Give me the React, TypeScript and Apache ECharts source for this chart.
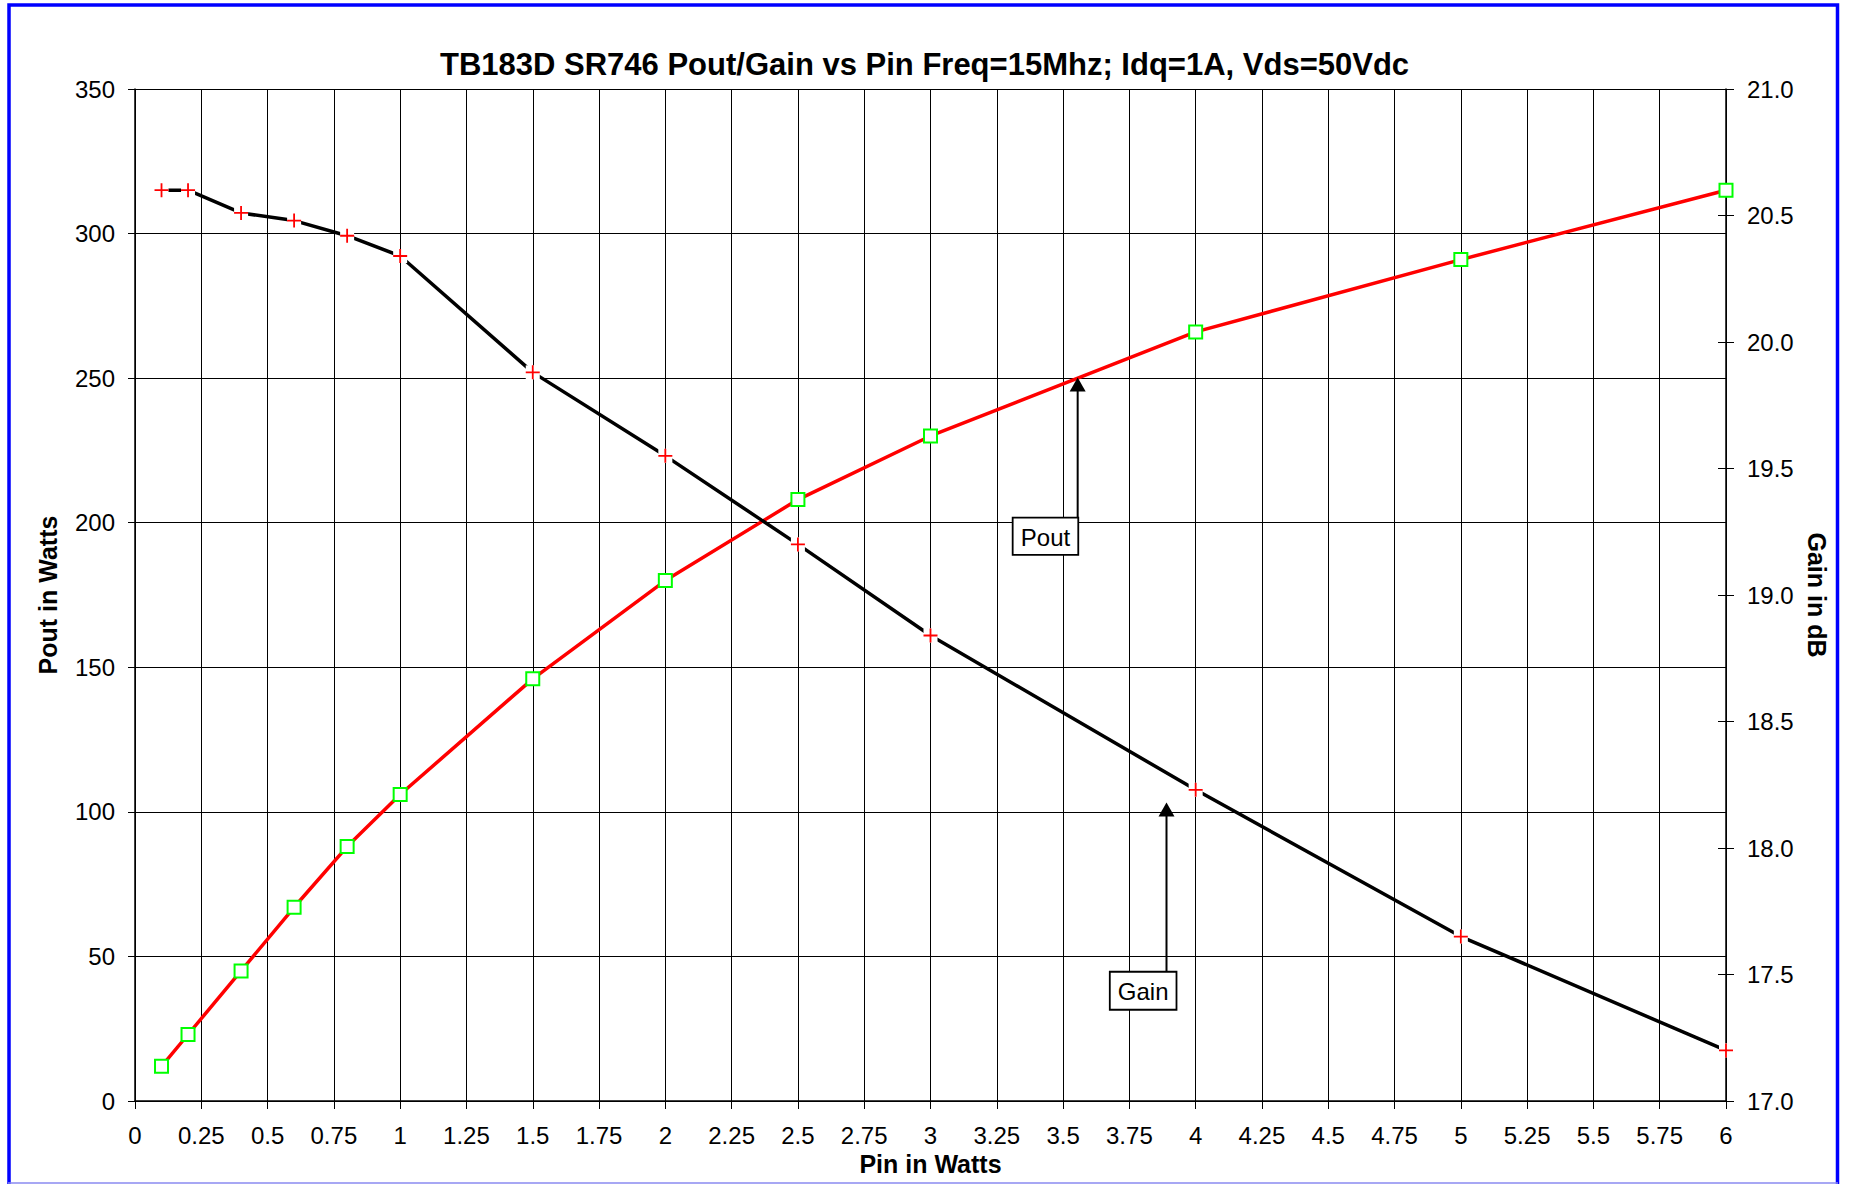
import React, { useEffect, useRef } from 'react';
import * as echarts from 'echarts';

// Data
const pinWatts = [0.1, 0.2, 0.4, 0.6, 0.8, 1, 1.5, 2, 2.5, 3, 4, 5, 6];
const poutWatts = [12, 23, 45, 67, 88, 106, 146, 180, 208, 230, 266, 291, 315];
const gainDb = [20.6, 20.6, 20.51, 20.48, 20.42, 20.34, 19.88, 19.55, 19.2, 18.84, 18.23, 17.65, 17.2];

const titleText = 'TB183D SR746 Pout/Gain vs Pin Freq=15Mhz; Idq=1A, Vds=50Vdc';
const xName = 'Pin in Watts';
const yLeftName = 'Pout in Watts';
const yRightName = 'Gain in dB';

// annotation arrow tips in data coordinates
const poutTip: [number, number] = [3.555, 250.2];
const gainTip: [number, number] = [3.89, 18.18];

const FONT = '"Liberation Sans", Arial, Helvetica, sans-serif';

export default function App() {
  const ref = useRef<HTMLDivElement>(null);
  useEffect(() => {
    const chart = echarts.init(ref.current!, null, { renderer: 'svg' });
    const poutData = pinWatts.map((x, i) => [x, poutWatts[i]]);
    const gainData = pinWatts.map((x, i) => [x, gainDb[i]]);
    const axisLabel = { color: '#000', fontSize: 24, fontFamily: FONT };
    const nameStyle = { color: '#000', fontSize: 25, fontWeight: 'bold', fontFamily: FONT };
    chart.setOption({
      animation: false,
      backgroundColor: '#fff',
      textStyle: { fontFamily: FONT },
      title: {
        text: titleText,
        left: 440,
        top: 49,
        padding: 0,
        textStyle: { color: '#000', fontSize: 31, fontWeight: 'bold', fontFamily: FONT },
      },
      grid: { left: 135, top: 89, right: 125, bottom: 83, containLabel: false, outerBoundsMode: 'none' },
      xAxis: {
        type: 'value',
        min: 0,
        max: 6,
        interval: 0.25,
        name: xName,
        nameLocation: 'middle',
        nameGap: 48,
        nameTextStyle: nameStyle,
        axisLine: { show: true, lineStyle: { color: '#000', width: 1.5 } },
        axisTick: { show: true, length: 8, lineStyle: { color: '#000', width: 1 } },
        axisLabel: { ...axisLabel, margin: 22 },
        splitLine: { show: true, lineStyle: { color: '#000', width: 1 } },
      },
      yAxis: [
        {
          type: 'value',
          min: 0,
          max: 350,
          interval: 50,
          position: 'left',
          name: yLeftName,
          nameLocation: 'middle',
          nameGap: 75,
          nameRotate: 90,
          nameTextStyle: nameStyle,
          axisLine: { show: true, lineStyle: { color: '#000', width: 1.5 } },
          axisTick: { show: true, length: 7, lineStyle: { color: '#000', width: 1 } },
          axisLabel: { ...axisLabel, margin: 20 },
          splitLine: { show: true, lineStyle: { color: '#000', width: 1 } },
        },
        {
          type: 'value',
          min: 17,
          max: 21,
          interval: 0.5,
          position: 'right',
          name: yRightName,
          nameLocation: 'middle',
          nameGap: 72,
          nameRotate: -90,
          nameTextStyle: nameStyle,
          axisLine: { show: true, lineStyle: { color: '#000', width: 1.5 } },
          axisTick: { show: true, length: 8, lineStyle: { color: '#000', width: 1 } },
          axisLabel: { ...axisLabel, margin: 21, formatter: (v: number) => v.toFixed(1) },
          splitLine: { show: false },
        },
        {
          type: 'value',
          min: 17,
          max: 21,
          interval: 0.5,
          position: 'right',
          axisLine: { show: false },
          axisTick: { show: true, inside: true, length: 8, lineStyle: { color: '#000', width: 1 } },
          axisLabel: { show: false },
          splitLine: { show: false },
        },
      ],
      series: [
        {
          name: 'Pout',
          type: 'line',
          yAxisIndex: 0,
          data: poutData,
          lineStyle: { color: '#ff0000', width: 3.5 },
          symbol: 'rect',
          symbolSize: 13,
          itemStyle: { color: '#ffffff', borderColor: '#00ff00', borderWidth: 2 },
          z: 3,
        },
        {
          name: 'Gain',
          type: 'line',
          yAxisIndex: 1,
          data: gainData,
          lineStyle: { color: '#000000', width: 3.5 },
          symbol: 'rect',
          symbolSize: 14,
          itemStyle: { color: '#ffffff', borderWidth: 0 },
          z: 4,
        },
        {
          name: 'Gain markers',
          type: 'line',
          yAxisIndex: 1,
          data: gainData,
          lineStyle: { width: 0, opacity: 0 },
          symbol: 'path://M7,0L7,14M0,7L14,7',
          symbolSize: 14,
          itemStyle: { color: 'none', borderColor: '#ff0000', borderWidth: 1.8 },
          z: 5,
        },
      ],
    });

    const callout = (
      tip: number[],
      dx: number,
      dy: number,
      w: number,
      h: number,
      label: string
    ) => {
      const [tx, ty] = tip;
      const bx = tx + dx;
      const by = ty + dy;
      return [
        {
          type: 'line',
          z: 20,
          shape: { x1: tx, y1: ty + 12, x2: tx, y2: by },
          style: { stroke: '#000', lineWidth: 2 },
        },
        {
          type: 'polygon',
          z: 20,
          shape: { points: [[tx, ty], [tx - 8, ty + 14], [tx + 8, ty + 14]] },
          style: { fill: '#000' },
        },
        {
          type: 'rect',
          z: 20,
          shape: { x: bx, y: by, width: w, height: h },
          style: { fill: '#fff', stroke: '#000', lineWidth: 1.8 },
        },
        {
          type: 'text',
          z: 21,
          x: bx + w / 2,
          y: by + h / 2 + 1,
          style: {
            text: label,
            font: `24px ${FONT}`,
            fill: '#000',
            align: 'center',
            verticalAlign: 'middle',
            textAlign: 'center',
            textVerticalAlign: 'middle',
          },
        },
      ];
    };

    const pPout = chart.convertToPixel({ xAxisIndex: 0, yAxisIndex: 0 }, poutTip) as number[];
    const pGain = chart.convertToPixel({ xAxisIndex: 0, yAxisIndex: 1 }, gainTip) as number[];

    chart.setOption({
      graphic: [
        {
          type: 'rect',
          z: 30,
          silent: true,
          shape: { x: 9, y: 5, width: 1828.5, height: 1190 },
          style: { fill: 'none', stroke: '#0000ff', lineWidth: 3.5 },
        },
        {
          type: 'line',
          z: 31,
          silent: true,
          shape: { x1: 8, y1: 1183, x2: 1838, y2: 1183 },
          style: { stroke: '#8a8af0', lineWidth: 1.5 },
        },
        ...callout(pPout, -65, 140, 65.6, 37.3, 'Pout'),
        ...callout(pGain, -56.7, 169.3, 66.7, 38, 'Gain'),
      ],
    });

    return () => chart.dispose();
  }, []);

  return (
    <div
      ref={ref}
      style={{ position: 'fixed', left: 0, top: 0, width: 1851, height: 1184, background: '#fff' }}
    />
  );
}
